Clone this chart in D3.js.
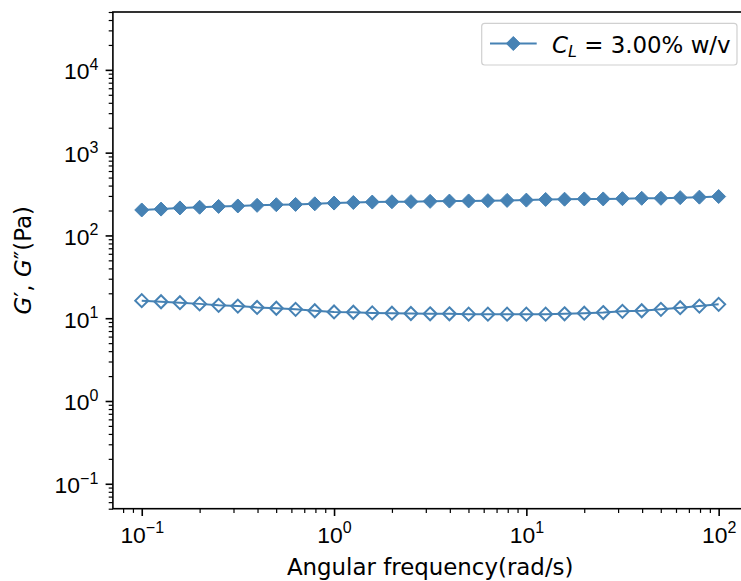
<!DOCTYPE html>
<html>
<head>
<meta charset="utf-8">
<script src="https://cdn.jsdelivr.net/npm/d3@7"></script>
<style>
  html, body { margin: 0; padding: 0; background: #fff; }
  svg { display: block; font-family: "DejaVu Sans", sans-serif; }
</style>
</head>
<body>
<div id="chart"></div>
<script>
// angular frequency (rad/s), 10 points per decade
const freq = [0.1, 0.126, 0.158, 0.2, 0.251, 0.316, 0.398, 0.501, 0.631, 0.794,
  1, 1.26, 1.58, 2, 2.51, 3.16, 3.98, 5.01, 6.31, 7.94,
  10, 12.6, 15.8, 20, 25.1, 31.6, 39.8, 50.1, 63.1, 79.4, 100];
// storage modulus G' (Pa)
const gStorage = [203, 208, 215, 219, 224, 227, 231, 235, 237, 241,
  246, 250, 253, 255, 256, 258, 260, 261, 263, 265,
  267, 272, 274, 276, 276, 278, 281, 281, 286, 290, 295];
// loss modulus G'' (Pa)
const gLoss = [16.3, 15.8, 15.4, 14.9, 14.3, 14.0, 13.5, 13.2, 12.8, 12.3,
  11.9, 11.8, 11.6, 11.5, 11.4, 11.3, 11.3, 11.2, 11.2, 11.2,
  11.2, 11.2, 11.3, 11.5, 11.7, 12.1, 12.3, 12.8, 13.4, 14.0, 14.7];

const xMajor = [-1, 0, 1, 2];
const yMajor = [-1, 0, 1, 2, 3, 4];

const width = 741, height = 581;
const color = "#4682b4";
const fs = 22.9, fsSmall = 16;

const svg = d3.select("#chart").append("svg")
  .attr("width", width).attr("height", height);

const pLeft = 112.9, pRight = 747.5, pTop = 12, pBottom = 508.7;

const x = d3.scaleLog().domain([Math.pow(10, -1.15), Math.pow(10, 2.15)]).range([pLeft, pRight]);
const y = d3.scaleLog().domain([0.05, 5e4]).range([pBottom, pTop]);

// minor tick values
function minors(lo, hi){
  let out = [];
  for (let e = Math.floor(Math.log10(lo)); e <= Math.ceil(Math.log10(hi)); e++){
    for (let m = 2; m <= 9; m++){
      let v = m * Math.pow(10, e);
      if (v >= lo && v <= hi) out.push(v);
    }
  }
  return out;
}

// x axis
svg.append("g").attr("transform", `translate(0,${pBottom})`)
  .call(d3.axisBottom(x).tickValues(minors(x.domain()[0], x.domain()[1])).tickSize(4.2).tickFormat(""))
  .call(g => g.select(".domain").remove())
  .call(g => g.selectAll("line").attr("stroke", "#000").attr("stroke-width", 1.2));

let xa = svg.append("g").attr("transform", `translate(0,${pBottom})`)
  .call(d3.axisBottom(x).tickValues(xMajor.map(e => Math.pow(10, e))).tickSize(7.3).tickFormat(""))
  .call(g => g.select(".domain").remove())
  .call(g => g.selectAll("line").attr("stroke", "#000").attr("stroke-width", 1.6));

xa.selectAll(".tick").each(function(d, i){
  let t = d3.select(this).append("text")
    .attr("y", 34).attr("fill", "#000")
    .attr("text-anchor", "middle")
    .style("font-size", fs + "px");
  t.append("tspan").text("10");
  t.append("tspan").attr("dy", -9.5).style("font-size", fsSmall + "px")
    .text(String(xMajor[i]).replace("-", "\u2212"));
});

// y axis
svg.append("g").attr("transform", `translate(${pLeft},0)`)
  .call(d3.axisLeft(y).tickValues(minors(0.05, 5e4)).tickSize(4.2).tickFormat(""))
  .call(g => g.select(".domain").remove())
  .call(g => g.selectAll("line").attr("stroke", "#000").attr("stroke-width", 1.2));

let ya = svg.append("g").attr("transform", `translate(${pLeft},0)`)
  .call(d3.axisLeft(y).tickValues(yMajor.map(e => Math.pow(10, e))).tickSize(7.3).tickFormat(""))
  .call(g => g.select(".domain").remove())
  .call(g => g.selectAll("line").attr("stroke", "#000").attr("stroke-width", 1.6));

ya.selectAll(".tick").each(function(d, i){
  let t = d3.select(this).append("text")
    .attr("x", -14.6).attr("y", 9).attr("fill", "#000")
    .attr("text-anchor", "end")
    .style("font-size", fs + "px");
  t.append("tspan").text("10");
  t.append("tspan").attr("dy", -9.5).style("font-size", fsSmall + "px")
    .text(String(yMajor[i]).replace("-", "\u2212"));
});

// spines
svg.append("rect").attr("x", pLeft).attr("y", pTop)
  .attr("width", pRight - pLeft).attr("height", pBottom - pTop)
  .attr("fill", "none").attr("stroke", "#000").attr("stroke-width", 1.6);

// axis labels
svg.append("text").attr("x", (pLeft + pRight) / 2).attr("y", 575)
  .attr("text-anchor", "middle").style("font-size", fs + "px")
  .text("Angular frequency(rad/s)");

let yl = svg.append("text")
  .attr("transform", `translate(31,${(pTop + pBottom) / 2}) rotate(-90)`)
  .attr("text-anchor", "middle").style("font-size", fs + "px");
yl.append("tspan").style("font-style", "italic").text("G");
yl.append("tspan").text("\u2032, ");
yl.append("tspan").style("font-style", "italic").text("G");
yl.append("tspan").text("\u2033(Pa)");

// series
const line = d3.line().x(d => x(d[0])).y(d => y(d[1]));
const diamond = r => `M0,${-r}L${r},0L0,${r}L${-r},0Z`;

const storage = freq.map((f, i) => [f, gStorage[i]]);
const loss = freq.map((f, i) => [f, gLoss[i]]);

svg.append("path").datum(storage).attr("d", line)
  .attr("fill", "none").attr("stroke", color).attr("stroke-width", 2);
svg.append("path").datum(loss).attr("d", line)
  .attr("fill", "none").attr("stroke", color).attr("stroke-width", 2);

svg.append("g").selectAll("path").data(storage).join("path")
  .attr("transform", d => `translate(${x(d[0])},${y(d[1])})`)
  .attr("d", diamond(7)).attr("fill", color)
  .attr("stroke", color).attr("stroke-width", 1);

svg.append("g").selectAll("path").data(loss).join("path")
  .attr("transform", d => `translate(${x(d[0])},${y(d[1])})`)
  .attr("d", diamond(6.5)).attr("fill", "none")
  .attr("stroke", color).attr("stroke-width", 2);

// legend
let lg = svg.append("g");
lg.append("rect").attr("x", 481.7).attr("y", 23.3).attr("width", 255.3).attr("height", 41.7)
  .attr("rx", 3).attr("fill", "#fff").attr("stroke", "#d0d0d0").attr("stroke-width", 1.2);
lg.append("line").attr("x1", 490).attr("x2", 536.7).attr("y1", 43.5).attr("y2", 43.5)
  .attr("stroke", color).attr("stroke-width", 2);
lg.append("path").attr("transform", "translate(513.3,43.5)").attr("d", diamond(7))
  .attr("fill", color).attr("stroke", color).attr("stroke-width", 1);
let lt = lg.append("text").attr("x", 552).attr("y", 53.3).style("font-size", fs + "px");
lt.append("tspan").style("font-style", "italic").text("C");
lt.append("tspan").attr("dy", 4).style("font-style", "italic").style("font-size", fsSmall + "px").text("L");
lt.append("tspan").attr("dy", -4).text(" = 3.00% w/v");
</script>
</body>
</html>
